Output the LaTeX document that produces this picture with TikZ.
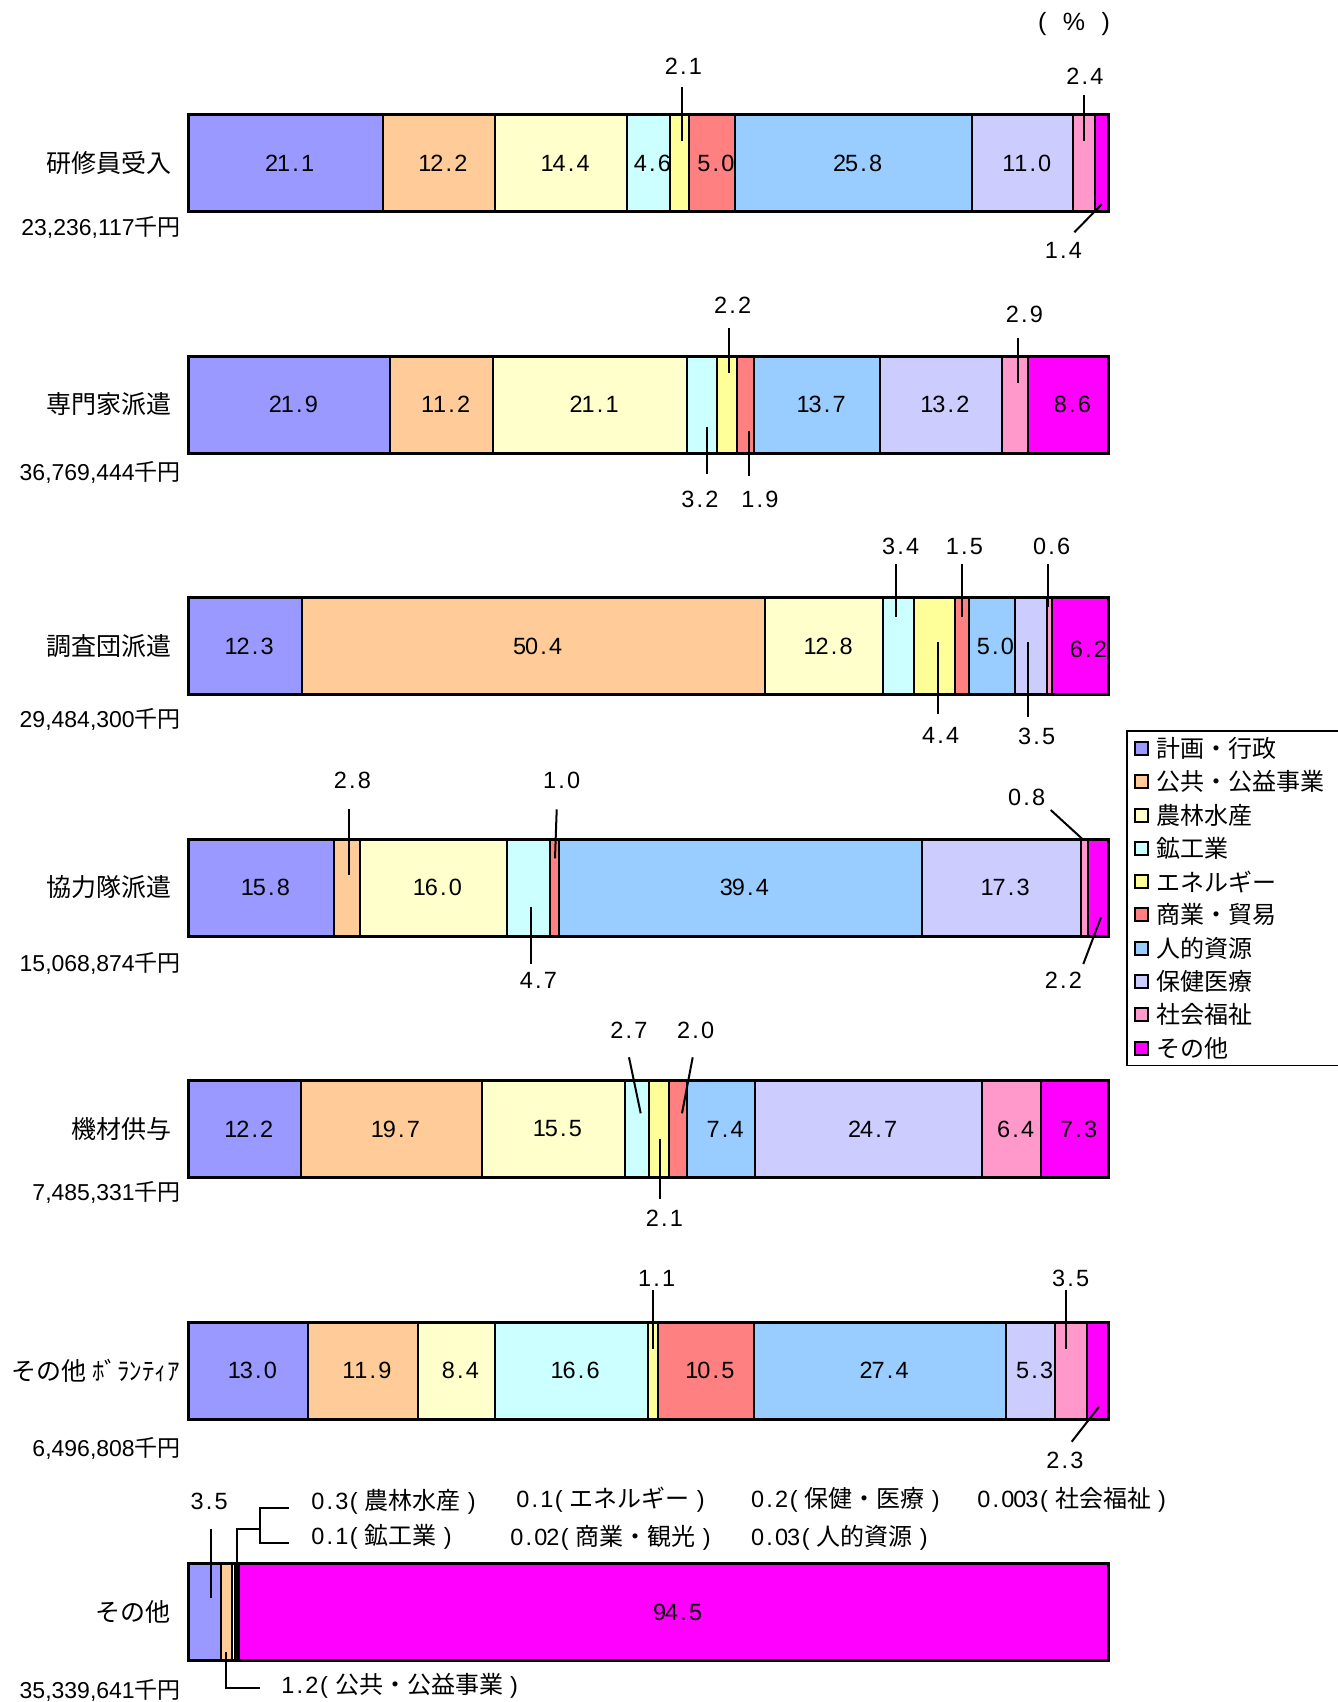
\documentclass[tikz,border=0pt]{standalone}
\usepackage{fontspec}
\setmainfont{Liberation Sans}
\newfontfamily\jp{Noto Sans CJK JP}
\definecolor{c1}{HTML}{9999FF}
\definecolor{c2}{HTML}{FFCC99}
\definecolor{c3}{HTML}{FFFFCC}
\definecolor{c4}{HTML}{CCFFFF}
\definecolor{c5}{HTML}{FFFF99}
\definecolor{c6}{HTML}{FF8080}
\definecolor{c7}{HTML}{99CCFF}
\definecolor{c8}{HTML}{CCCCFF}
\definecolor{c9}{HTML}{FF99CC}
\definecolor{c10}{HTML}{FF00FF}
\newcommand\mono[1]{\monoaux#1\relax}
\def\monoaux#1{\ifx\relax#1\else\makebox[12pt]{#1}\expandafter\monoaux\fi}
\tikzset{
  seg/.style={draw=black, line width=2pt},
  frame/.style={draw=black, line width=3pt},
  callout/.style={draw=black, line width=2pt},
  val/.style={inner sep=0pt, font=\fontsize{23.5}{27}\selectfont},
  cat/.style={inner sep=0pt, anchor=east, font=\jp\fontsize{25}{30}\selectfont},
  amt/.style={inner sep=0pt, anchor=east, font=\fontsize{23}{27}\selectfont},
  leg/.style={inner sep=0pt, anchor=west, font=\jp\fontsize{24}{28}\selectfont},
  note/.style={inner sep=0pt, anchor=west, font=\fontsize{23.5}{27}\selectfont},
  legsq/.style={draw=black, line width=2pt},
}
\newcommand\hbarchart[2]{%
  \foreach \q/\col [remember=\q as \p (initially 0)] in {#2}{%
    \filldraw[fill=\col, seg] ({188.7+\p*9.196},#1) rectangle ({188.7+\q*9.196},{#1+97});
  }%
  \draw[frame] (188.7,#1) rectangle (1108.3,{#1+97});
}
\newcommand\vlab[4]{\node[val] at ({188.7+(#2+#3)/2*9.196+4},{#1+48.5}) {\mono{#4}};}
\newcommand\jpn[1]{{\jp\fontsize{24}{28}\selectfont #1}}
\begin{document}
\begin{tikzpicture}[x=1pt,y=-1pt]
\useasboundingbox (0,0) rectangle (1338,1702);
\node[inner sep=0pt, font=\fontsize{25}{30}\selectfont] (pct) at (1074,24) {\makebox[72pt]{(\hfill\%\hfill)}};

% ---------- bar 1
\hbarchart{114.5}{21.1/c1,33.3/c2,47.7/c3,52.3/c4,54.4/c5,59.4/c6,85.2/c7,96.2/c8,98.6/c9,100/c10}
\vlab{114.5}{0}{21.1}{21.1}\vlab{114.5}{21.1}{33.3}{12.2}\vlab{114.5}{33.3}{47.7}{14.4}
\vlab{114.5}{47.7}{52.3}{4.6}\vlab{114.5}{54.4}{59.4}{5.0}\vlab{114.5}{59.4}{85.2}{25.8}
\vlab{114.5}{85.2}{96.2}{11.0}
\node[cat] (n1) at (171.5,163) {研修員受入};
\node[amt] (m1) at (181,227) {23,236,117{\jp 千円}};
\node[val] (a11) at (683.3,66.7) {\mono{2.1}};
\draw[callout] (682.3,86.7) -- (682.3,141);
\node[val] (a12) at (1085,76.7) {\mono{2.4}};
\draw[callout] (1084,95) -- (1084,141);
\node[val] (a13) at (1063.3,250) {\mono{1.4}};
\draw[callout] (1101.7,204.3) -- (1074.3,232.3);

% ---------- bar 2
\hbarchart{356}{21.9/c1,33.1/c2,54.2/c3,57.4/c4,59.6/c5,61.5/c6,75.2/c7,88.4/c8,91.3/c9,100/c10}
\vlab{356}{0}{21.9}{21.9}\vlab{356}{21.9}{33.1}{11.2}\vlab{356}{33.1}{54.2}{21.1}
\vlab{356}{61.5}{75.2}{13.7}\vlab{356}{75.2}{88.4}{13.2}\vlab{356}{91.3}{100}{8.6}
\node[cat] (n2) at (171.5,404.5) {専門家派遣};
\node[amt] (m2) at (181,472) {36,769,444{\jp 千円}};
\node[val] (a21) at (732.7,305) {\mono{2.2}};
\draw[callout] (729.3,327.7) -- (729.3,372.7);
\node[val] (a22) at (1024.3,314) {\mono{2.9}};
\draw[callout] (1017.7,338.3) -- (1017.7,383.3);
\node[val] (a23) at (700,499.3) {\mono{3.2}};
\draw[callout] (706.7,426.7) -- (706.7,474);
\node[val] (a24) at (760,499.3) {\mono{1.9}};
\draw[callout] (748.7,430.7) -- (748.7,476);

% ---------- bar 3
\hbarchart{597.5}{12.3/c1,62.7/c2,75.5/c3,78.9/c4,83.3/c5,84.8/c6,89.8/c7,93.3/c8,93.9/c9,100/c10}
\vlab{597.5}{0}{12.3}{12.3}\vlab{597.5}{12.3}{62.7}{50.4}\vlab{597.5}{62.7}{75.5}{12.8}
\vlab{597.5}{84.8}{89.8}{5.0}
\node[val] at (1088.3,649.3) {\mono{6.2}};
\node[cat] (n3) at (171.5,646) {調査団派遣};
\node[amt] (m3) at (181,719) {29,484,300{\jp 千円}};
\node[val] (a31) at (900.7,546.7) {\mono{3.4}};
\draw[callout] (895.7,564.3) -- (895.7,616.7);
\node[val] (a32) at (964.3,546.7) {\mono{1.5}};
\draw[callout] (961.7,564.3) -- (961.7,616.7);
\node[val] (a33) at (1051.7,546.7) {\mono{0.6}};
\draw[callout] (1048,564.3) -- (1048,607.3);
\node[val] (a34) at (940.7,735) {\mono{4.4}};
\draw[callout] (938.3,642.3) -- (938.3,714.3);
\node[val] (a35) at (1036.7,736.7) {\mono{3.5}};
\draw[callout] (1028.3,642.3) -- (1028.3,717.3);

% ---------- bar 4
\hbarchart{839}{15.8/c1,18.6/c2,34.6/c3,39.3/c4,40.3/c6,79.7/c7,97.0/c8,97.8/c9,100/c10}
\vlab{839}{0}{15.8}{15.8}\vlab{839}{18.6}{34.6}{16.0}\vlab{839}{40.3}{79.7}{39.4}
\vlab{839}{79.7}{97.0}{17.3}
\node[cat] (n4) at (171.5,887.5) {協力隊派遣};
\node[amt] (m4) at (181,963) {15,068,874{\jp 千円}};
\node[val] (a41) at (352.3,780) {\mono{2.8}};
\draw[callout] (349.3,809.3) -- (349.3,875);
\node[val] (a42) at (561.7,780) {\mono{1.0}};
\draw[callout] (556.7,809.3) -- (555,858.3);
\node[val] (a43) at (538.3,980) {\mono{4.7}};
\draw[callout] (530.7,906.7) -- (530.7,964);
\node[val] (a44) at (1026.7,797.3) {\mono{0.8}};
\draw[callout] (1050.7,810) -- (1082.7,839.3);
\node[val] (a45) at (1063.3,980) {\mono{2.2}};
\draw[callout] (1101,917.3) -- (1083.3,964);

% ---------- bar 5
\hbarchart{1080.5}{12.2/c1,31.9/c2,47.4/c3,50.1/c4,52.2/c5,54.2/c6,61.6/c7,86.3/c8,92.7/c9,100/c10}
\vlab{1080.5}{0}{12.2}{12.2}\vlab{1080.5}{12.2}{31.9}{19.7}\vlab{1080.5}{31.9}{47.4}{15.5}
\vlab{1080.5}{54.2}{61.6}{7.4}\vlab{1080.5}{61.6}{86.3}{24.7}\vlab{1080.5}{86.3}{92.7}{6.4}
\vlab{1080.5}{92.7}{100}{7.3}
\node[cat] (n5) at (171.5,1129) {機材供与};
\node[amt] (m5) at (181,1192) {7,485,331{\jp 千円}};
\node[val] (a51) at (629,1030.7) {\mono{2.7}};
\draw[callout] (629,1057.3) -- (640.7,1113.3);
\node[val] (a52) at (695.7,1030.7) {\mono{2.0}};
\draw[callout] (692.7,1057.3) -- (682,1113.3);
\node[val] (a53) at (664.3,1218.3) {\mono{2.1}};
\draw[callout] (660,1139.3) -- (660,1199.3);

% ---------- bar 6
\hbarchart{1322}{13.0/c1,24.9/c2,33.3/c3,49.9/c4,51.0/c5,61.5/c6,88.9/c7,94.2/c8,97.7/c9,100/c10}
\vlab{1322}{0}{13.0}{13.0}\vlab{1322}{13.0}{24.9}{11.9}\vlab{1322}{24.9}{33.3}{8.4}
\vlab{1322}{33.3}{49.9}{16.6}\vlab{1322}{51.0}{61.5}{10.5}\vlab{1322}{61.5}{88.9}{27.4}
\vlab{1322}{88.9}{94.2}{5.3}
\node[cat] (n6) at (180,1370.5) {その他 ﾎﾞﾗﾝﾃｨｱ};
\node[amt] (m6) at (181,1448) {6,496,808{\jp 千円}};
\node[val] (a61) at (656.7,1278.3) {\mono{1.1}};
\draw[callout] (653.3,1290) -- (653.3,1349.3);
\node[val] (a62) at (1070.7,1278.3) {\mono{3.5}};
\draw[callout] (1066,1290) -- (1066,1349.3);
\node[val] (a63) at (1065,1460) {\mono{2.3}};
\draw[callout] (1099,1406.7) -- (1071.7,1441.7);

% ---------- bar 7
\hbarchart{1563.5}{3.5/c1,4.7/c2,5.0/c3,5.1/c4,5.2/c5,5.22/c6,5.25/c7,5.45/c8,5.453/c9,100/c10}
\vlab{1563.5}{5.45}{100}{94.5}
\node[cat] (n7) at (171,1612) {その他};
\node[amt] (m7) at (181,1690) {35,339,641{\jp 千円}};
\node[val] (a71) at (209.2,1501.7) {\mono{3.5}};
\draw[callout] (210.9,1529.3) -- (210.9,1598.3);
\draw[callout] (236.5,1563.5) -- (236.5,1529.3) -- (260.4,1529.3);
\draw[callout] (288.6,1508.3) -- (260.4,1508.3) -- (260.4,1543.3) -- (288.6,1543.3);
\draw[callout] (226.3,1651.7) -- (226.3,1687.7) -- (260.4,1687.7);
\node[note] (b1) at (311.7,1502) {\mono{0.3(}\hspace{5pt}\jpn{農林水産}\hspace{5pt}\mono{)}};
\node[note] (b2) at (311.7,1537) {\mono{0.1(}\hspace{5pt}\jpn{鉱工業}\hspace{5pt}\mono{)}};
\node[note] (b3) at (516.6,1500) {\mono{0.1(}\hspace{5pt}\jpn{エネルギー}\hspace{5pt}\mono{)}};
\node[note] (b4) at (510.6,1538) {\mono{0.02(}\hspace{5pt}\jpn{商業・観光}\hspace{5pt}\mono{)}};
\node[note] (b5) at (751.5,1500) {\mono{0.2(}\hspace{5pt}\jpn{保健・医療}\hspace{5pt}\mono{)}};
\node[note] (b6) at (751.5,1538) {\mono{0.03(}\hspace{5pt}\jpn{人的資源}\hspace{5pt}\mono{)}};
\node[note] (b7) at (977.8,1500) {\mono{0.003(}\hspace{5pt}\jpn{社会福祉}\hspace{5pt}\mono{)}};
\node[note] (b8) at (281.8,1686) {\mono{1.2(}\hspace{5pt}\jpn{公共・公益事業}\hspace{5pt}\mono{)}};

% ---------- legend
\draw[line width=1.5pt] (1338,731) -- (1127,731) -- (1127,1065.5) -- (1338,1065.5);
\foreach \k/\t in {0/計画・行政,1/公共・公益事業,2/農林水産,3/鉱工業,4/エネルギー,5/商業・貿易,6/人的資源,7/保健医療,8/社会福祉,9/その他}{
  \pgfmathsetmacro\yy{748.5+33.28*\k}
  \pgfmathtruncatemacro\cc{\k+1}
  \filldraw[fill=c\cc, legsq] (1135,{\yy-6.5}) rectangle (1148,{\yy+6.5});
  \node[leg] at (1156,\yy) {\t};
}
\end{tikzpicture}
\end{document}
